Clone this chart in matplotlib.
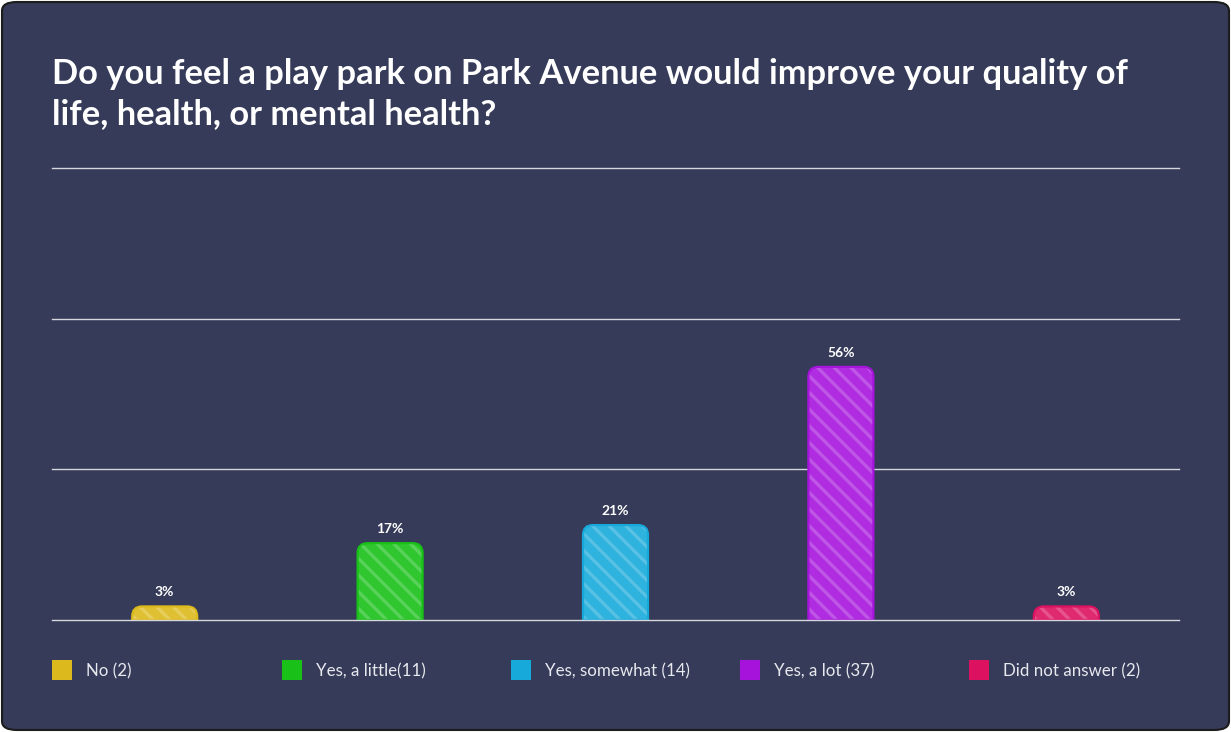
import numpy as np
import matplotlib
matplotlib.use("Agg")
import matplotlib.pyplot as plt
from matplotlib.path import Path
from matplotlib.patches import PathPatch, FancyBboxPatch, Rectangle
from matplotlib.colors import to_rgb

# data
categories = ["No (2)", "Yes, a little(11)", "Yes, somewhat (14)", "Yes, a lot (37)", "Did not answer (2)"]
values = [3, 17, 21, 56, 3]
value_labels = ["3%", "17%", "21%", "56%", "3%"]
colors = ["#dcb91c", "#18c018", "#17a9da", "#a614dc", "#dc1260"]
grid_ticks = [0, 100 / 3, 200 / 3, 100]

BG = "#353b58"
FONT = "Lato"

plt.rcParams["hatch.linewidth"] = 2.4

W, H = 1231, 732
fig = plt.figure(figsize=(W / 100, H / 100), dpi=100)
fig.patch.set_facecolor("white")

# rounded card behind everything
card = FancyBboxPatch((2 / W, 2 / H), 1 - 4 / W, 1 - 4 / H,
                      boxstyle="round,pad=0,rounding_size=0.012",
                      transform=fig.transFigure, facecolor=BG,
                      edgecolor="#1c1c1c", linewidth=1.5, zorder=-5)
fig.patches.append(card)

ax = fig.add_axes([52 / W, 1 - 620 / H, (1179 - 52) / W, (620 - 168) / H])
ax.set_zorder(2)
ax.set_facecolor("none")
ax.set_xlim(-0.5, len(values) - 0.5)
ax.set_ylim(0, 100)
for s in ax.spines.values():
    s.set_visible(False)
ax.set_xticks([])
ax.set_yticks([])

for t in grid_ticks:
    ax.axhline(t, color="#d6d7dc", linewidth=1.0, clip_on=False,
               zorder=5 if t == 0 else 1)


def lighten(c, f):
    r, g, b = to_rgb(c)
    return (r + (1 - r) * f, g + (1 - g) * f, b + (1 - b) * f)


def top_rounded_path(x0, x1, h, rx, ry):
    ry = min(ry, h)
    verts = [(x0, 0), (x0, h - ry), (x0, h), (x0 + rx, h),
             (x1 - rx, h), (x1, h), (x1, h - ry), (x1, 0), (x0, 0)]
    codes = [Path.MOVETO, Path.LINETO, Path.CURVE3, Path.CURVE3,
             Path.LINETO, Path.CURVE3, Path.CURVE3, Path.LINETO, Path.CLOSEPOLY]
    return Path(verts, codes)


px_x = ax.bbox.width / (ax.get_xlim()[1] - ax.get_xlim()[0])
px_y = ax.bbox.height / (ax.get_ylim()[1] - ax.get_ylim()[0])
bar_w = 65 / px_x
r_px = 10

for i, (v, c) in enumerate(zip(values, colors)):
    x0, x1 = i - bar_w / 2, i + bar_w / 2
    p = top_rounded_path(x0, x1, v, r_px / px_x, r_px / px_y)
    ax.add_patch(PathPatch(p, facecolor=lighten(c, 0.1), edgecolor=lighten(c, 0.28),
                           linewidth=0, hatch="\\\\", zorder=2))
    ax.add_patch(PathPatch(p, facecolor="none", edgecolor=c, linewidth=1.6, zorder=3))
    ax.annotate(value_labels[i], (i, v), xytext=(0, 6), textcoords="offset points",
                ha="center", va="bottom", color="white", fontsize=10,
                fontweight="bold", family=FONT)

# title
fig.text(52 / W, 1 - 58 / H, "Do you feel a play park on Park Avenue would improve your quality of\nlife, health, or mental health?",
         ha="left", va="top", color="white", fontsize=24.8, fontweight="bold",
         family=FONT, linespacing=1.3)

# legend
leg_x = [52, 282, 511, 740, 969]
for lx, lab, c in zip(leg_x, categories, colors):
    fig.patches.append(Rectangle((lx / W, 1 - 680 / H), 20 / W, 20 / H,
                                 transform=fig.transFigure, facecolor=c,
                                 edgecolor="none", zorder=3))
    fig.text((lx + 34) / W, 1 - 671 / H, lab, ha="left", va="center",
             color="#e8e9ef", fontsize=12.2, family=FONT)

fig.savefig("out.png", dpi=100, facecolor=fig.get_facecolor())
